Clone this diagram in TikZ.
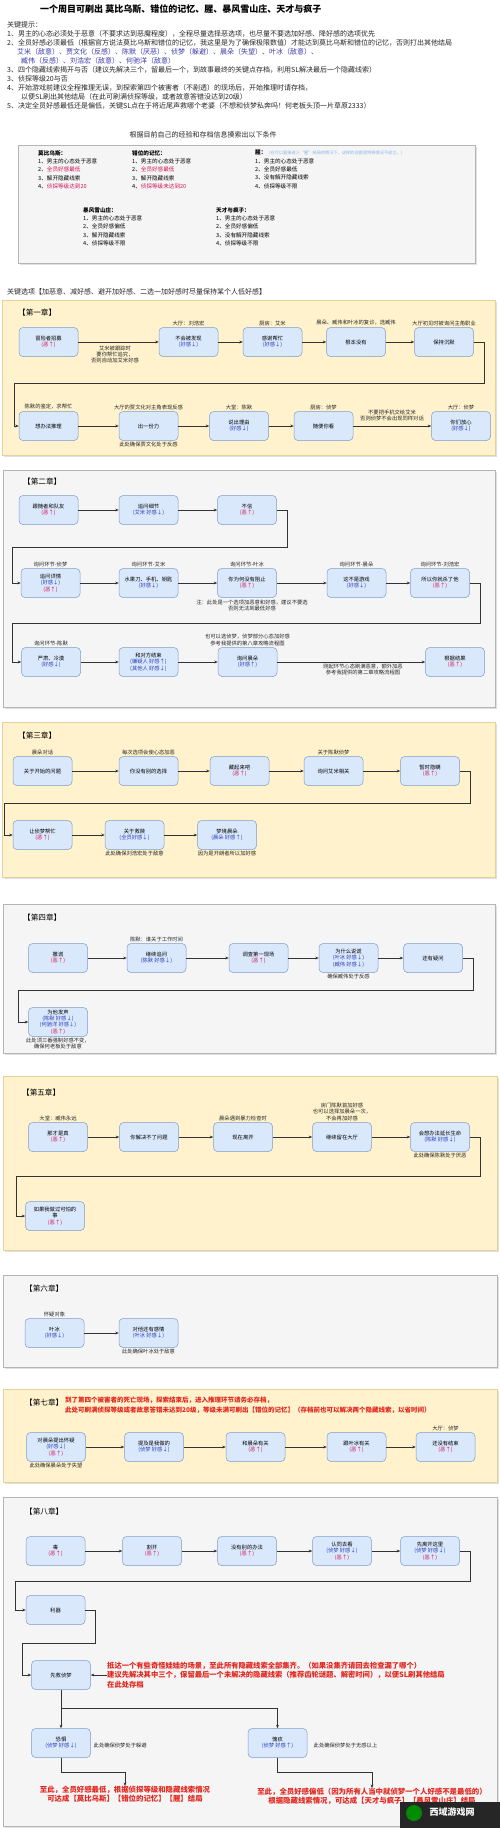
\documentclass[tikz,border=0pt]{standalone}
\usepackage{fontspec}
\setmainfont{Noto Sans CJK SC}
\usetikzlibrary{arrows.meta,positioning}
\definecolor{nbf}{HTML}{DAE8FC}
\definecolor{nbd}{HTML}{7F9CC9}
\definecolor{yf}{HTML}{FFF2CC}
\definecolor{yd}{HTML}{E5D29A}
\definecolor{gf}{HTML}{F5F5F5}
\definecolor{gd}{HTML}{B5B5B5}
\definecolor{evilc}{HTML}{D4145A}
\definecolor{favc}{HTML}{2A3FB8}
\definecolor{redt}{HTML}{E3261E}
\definecolor{tipblue}{HTML}{3A3AA8}
\definecolor{noteblue}{HTML}{86B6E8}
\definecolor{linec}{HTML}{333333}
\newcommand{\fsN}{\fontsize{5.3}{6.4}\selectfont}
\newcommand{\fsT}{\fontsize{7.0}{9}\selectfont}
\newcommand{\fsC}{\fontsize{5.6}{8.4}\selectfont}
\newcommand{\fsH}{\fontsize{7.6}{9}\selectfont}
\newcommand{\fsR}{\fontsize{6.5}{10}\selectfont}
\newcommand{\fsE}{\fontsize{7.4}{9.2}\selectfont}
\newcommand{\evil}{\textcolor{evilc}{(恶↑)}}
\newcommand{\fav}[1]{\textcolor{favc}{(#1)}}
\tikzset{
  nb/.style={draw=nbd, fill=nbf, rounded corners=4pt, minimum width=59pt, minimum height=29pt, inner sep=1pt, align=center, font=\fsN, line width=0.5pt},
  lab/.style={font=\fsN, inner sep=0.5pt, align=center, text=black!85},
  arr/.style={draw=linec, line width=0.5pt, -{Stealth[length=3.5pt,width=2.8pt]}},
  ych/.style={fill=yf, draw=yd, line width=0.6pt},
  gch/.style={fill=gf, draw=gd, line width=0.6pt},
  shd/.style={fill=black!12},
  chh/.style={font=\fsH, anchor=west, inner sep=0pt},
  tip/.style={font=\fsT, anchor=west, inner sep=0pt, text=black!85},
}
\begin{document}
\begin{tikzpicture}[x=1pt,y=-1pt]
\useasboundingbox (0,0) rectangle (500,1828);
\fill[white] (0,0) rectangle (500,1828);

% title
\node[anchor=west, inner sep=0, font=\fontsize{9.0}{11}\selectfont\bfseries] (title) at (40,9) {一个周目可刷出 莫比乌斯、错位的记忆、腥、暴风雪山庄、天才与疯子};

% tips
\node[tip] (t0) at (7,25) {关键提示：};
\node[tip] (t1) at (7,34) {1、男主的心态必须处于恶意（不要求达到恶魔程度），全程尽量选择恶选项，也尽量不要选加好感、降好感的选项优先};
\node[tip] (t2) at (7,43) {2、全员好感必须最低（根据官方说法莫比乌斯和错位的记忆，我这里是为了确保极限数值）才能达到莫比乌斯和错位的记忆，否则打出其他结局};
\node[tip, text=tipblue] (t3) at (17,52) {艾米（敌意）、贾文化（反感）、陈默（厌恶）、侦梦（躲避）、晨朵（失望）、叶冰（敌意）、};
\node[tip, text=tipblue] (t4) at (21,61) {臧伟（反感）、刘浩宏（敌意）、何驰洋（敌意）};
\node[tip] (t5) at (7,70) {3、四个隐藏线索揭开与否（建议先解决三个，留最后一个，到故事最终的关键点存档，利用SL解决最后一个隐藏线索）};
\node[tip] (t6) at (7,79) {3、侦探等级20与否};
\node[tip] (t7) at (7,88) {4、开始游戏前建议全程推理无误，到探索第四个被害者（不剧透）的现场后，开始推理时请存档，};
\node[tip] (t8) at (21,97) {以便SL刷出其他结局（在此可刷满侦探等级，或者故意答错没达到20级）};
\node[tip] (t9) at (7,106) {5、决定全员好感最低还是偏低，关键SL点在于将近尾声救哪个老婆（不想和侦梦私奔吗！何老板头顶一片草原2333）};

% conditions
\node[font=\fsT, inner sep=0, text=black!85] (condt) at (203,135) {根据目前自己的经验和存档信息摸索出以下条件};
\fill[shd] (20,147) rectangle (477,265);
\filldraw[gch] (18,145) rectangle (475,263);
\node[anchor=north west, inner sep=0, font=\fsC, align=left] (c1) at (38,150) {\textbf{莫比乌斯：}\\1、男主的心态处于恶意\\2、\textcolor{evilc}{全员好感最低}\\3、解开隐藏线索\\4、\textcolor{evilc}{侦探等级达到20}};
\node[anchor=north west, inner sep=0, font=\fsC, align=left] (c2) at (132,150) {\textbf{错位的记忆：}\\1、男主的心态处于恶意\\2、\textcolor{evilc}{全员好感最低}\\3、解开隐藏线索\\4、\textcolor{evilc}{侦探等级未达到20}};
\node[anchor=north west, inner sep=0, font=\fsC, align=left] (c3) at (255,150) {\textbf{腥：}{\fontsize{4.2}{5}\selectfont\textcolor{noteblue}{（在可以直接进入“腥”结局的情况下，这样的话都是特殊情况不成立。）}}\\1、男主的心态处于恶意\\2、全员好感最低\\3、没有解开隐藏线索\\4、侦探等级不限};
\node[anchor=north west, inner sep=0, font=\fsC, align=left] (c4) at (83,207) {\textbf{暴风雪山庄：}\\1、男主的心态处于恶意\\2、全员好感偏低\\3、解开隐藏线索\\4、侦探等级不限};
\node[anchor=north west, inner sep=0, font=\fsC, align=left] (c5) at (216,207) {\textbf{天才与疯子：}\\1、男主的心态处于恶意\\2、全员好感偏低\\3、没有解开隐藏线索\\4、侦探等级不限};

\node[tip] (keyopt) at (7,292) {关键选项【加恶意、减好感、避开加好感、二选一加好感时尽量保持某个人低好感】};

% ===== Chapter 1
\fill[shd] (3.5,301.5) rectangle (496.5,456.5);
\filldraw[ych] (2,300) rectangle (495,455);
\node[chh] (h1) at (18,313) {【第一章】};
\node[nb] (p1) at (48.5,342) {冒险者招募\\\evil};
\node[nb] (p2) at (188.5,342) {不会被发现\\\fav{好感↓}};
\node[nb] (p3) at (272.5,342) {感谢帮忙\\\fav{好感↓}};
\node[nb] (p4) at (356,342) {根本没有};
\node[nb] (p5) at (444,342) {保持沉默};
\node[nb] (p6) at (48.5,426) {想办法推理};
\node[nb] (p7) at (148.5,426) {出一份力};
\node[nb] (p8) at (239,426) {说出理由\\\fav{好感↓}};
\node[nb] (p9) at (323.5,426) {随便你看};
\node[nb] (p10) at (461,426) {你们放心\\\fav{好感↓}};
\node[lab, above=1pt of p2] {大厅：刘浩宏};
\node[lab, above=1pt of p3] {厨房：艾米};
\node[lab, above=1pt of p4] {晨朵、臧伟和叶冰的复诊，选臧伟};
\node[lab, above=1pt of p5] {大厅初见时被询问主角职业};
\node[lab, above=1pt of p6] {陈默的鉴定，求帮忙};
\node[lab, above=1pt of p7] {大厅的贾文化对主角表现反感};
\node[lab, below=1pt of p7] {此处确保贾文化处于反感};
\node[lab, above=1pt of p8] {大堂：陈默};
\node[lab, above=1pt of p9] {厨房：侦梦};
\node[lab, above=1pt of p10] {大厅：侦梦};
\node[lab, anchor=north] at (115,345) {艾米被跟踪时\\要你帮忙追究，\\否则自动加艾米好感};
\node[lab, anchor=south] at (392,422) {不要把手机交给艾米\\否则侦梦不会出现同样对话};
\draw[arr] (p1) -- (p2);
\draw[arr] (p2) -- (p3);
\draw[arr] (p3) -- (p4);
\draw[arr] (p4) -- (p5);
\draw[arr] (p5.east) -| (484,383) -| (14,426) -- (p6.west);
\draw[arr] (p6) -- (p7);
\draw[arr] (p7) -- (p8);
\draw[arr] (p8) -- (p9);
\draw[arr] (p9) -- (p10);

% ===== Chapter 2
\fill[shd] (4.5,471.5) rectangle (496.5,708.5);
\filldraw[gch] (3,470) rectangle (495,707);
\node[chh] (h2) at (23,482) {【第二章】};
\node[nb] (q1) at (48.5,510) {跟随者和队友\\\evil};
\node[nb] (q2) at (148.5,510) {追问细节\\\fav{艾米 好感↓}};
\node[nb] (q3) at (247,510) {不信\\\evil};
\node[nb] (r1) at (50.5,583) {追问详情\\\fav{好感↓}\\\evil};
\node[nb] (r2) at (148.5,583) {水果刀、手机、钥匙\\\fav{好感↓}};
\node[nb] (r3) at (247,583) {你为何没有阻止\\\evil};
\node[nb] (r4) at (356.5,583) {这不是游戏\\\fav{好感↓}};
\node[nb] (r5) at (440,583) {所以你就杀了他\\\evil};
\node[nb] (s1) at (51,662) {严肃、冷漠\\\fav{好感↓}};
\node[nb] (s2) at (148.5,662) {和对方结束\\\fav{嫌疑人 好感↑}\\\fav{其他人 好感↓}};
\node[nb] (s3) at (247.5,662) {询问晨朵\\\fav{好感↑}};
\node[nb] (s4) at (455,662) {根据结果\\\evil};
\node[lab, above=1pt of r1] {询问环节-侦梦};
\node[lab, above=1pt of r2] {询问环节-艾米};
\node[lab, above=1pt of r3] {询问环节-叶冰};
\node[lab, above=1pt of r4] {询问环节-晨朵};
\node[lab, above=1pt of r5] {询问环节-刘浩宏};
\node[lab, above=1pt of s1] {询问环节-陈默};
\node[lab, above=1pt of s3] {也可以选侦梦，侦梦部分心态加好感\\参考我提供的第八章攻略流程图};
\node[lab, anchor=north] at (252,599) {注：此处是一个选项加恶意和好感，建议不要选\\否则无法到最低好感};
\node[lab, anchor=north] at (363,663) {刚起环节心态刷满恶意，额外加恶\\参考我提供的第二章攻略流程图};
\draw[arr] (q1) -- (q2);
\draw[arr] (q2) -- (q3);
\draw[arr] (q3.east) -| (287,547) -| (12,583) -- (r1.west);
\draw[arr] (r1) -- (r2);
\draw[arr] (r2) -- (r3);
\draw[arr] (r3) -- (r4);
\draw[arr] (r4) -- (r5);
\draw[arr] (r5.east) -| (480,623) -| (12,662) -- (s1.west);
\draw[arr] (s1) -- (s2);
\draw[arr] (s2) -- (s3);
\draw[arr] (s3) -- (s4);

% ===== Chapter 3
\fill[shd] (3.5,723.5) rectangle (496.5,878.5);
\filldraw[ych] (2,722) rectangle (495,877);
\node[chh] (h3) at (18,736) {【第三章】};
\node[nb] (t1n) at (42.5,771) {关于开始的问题};
\node[nb] (t2n) at (148.5,771) {你没有别的选择};
\node[nb] (t3n) at (239.5,771) {藏起来吧\\\evil};
\node[nb] (t4n) at (333.5,771) {询问艾米相关};
\node[nb] (t5n) at (430,771) {暂时隐瞒\\\evil};
\node[nb] (u1) at (42.5,835) {让侦梦帮忙\\\evil};
\node[nb] (u2) at (134.5,835) {关于救赎\\\fav{全员好感↓}};
\node[nb] (u3) at (227,835) {梦境晨朵\\\fav{晨朵 好感↑}};
\node[lab, above=1pt of t1n] {晨朵对话};
\node[lab, above=1pt of t2n] {每次选项会使心态加恶};
\node[lab, above=1pt of t4n] {关于陈默侦梦};
\node[lab, below=1pt of u2] {此处确保刘浩宏处于敌意};
\node[lab, below=1pt of u3] {因为是开朗者所以加好感};
\draw[arr] (t1n) -- (t2n);
\draw[arr] (t2n) -- (t3n);
\draw[arr] (t3n) -- (t4n);
\draw[arr] (t4n) -- (t5n);
\draw[arr] (t5n.east) -| (470,803) -| (4,835) -- (u1.west);
\draw[arr] (u1) -- (u2);
\draw[arr] (u2) -- (u3);

% ===== Chapter 4
\fill[shd] (4.5,905.5) rectangle (496.5,1054.5);
\filldraw[gch] (3,904) rectangle (495,1053);
\node[chh] (h4) at (23,918) {【第四章】};
\node[nb] (v1) at (58,958) {撒谎\\\evil};
\node[nb] (v2) at (156.5,958) {继续追问\\\fav{陈默 好感↓}};
\node[nb] (v3) at (258.5,958) {调查第一现场\\\evil};
\node[nb] (v4) at (348.5,958) {为什么说谎\\\fav{叶冰 好感↓}\\\fav{臧伟 好感↓}};
\node[nb] (v5) at (433,958) {还有疑问};
\node[nb] (w1) at (58,1022) {为他发声\\\fav{陈默 好感↓}\\\fav{何驰洋 好感↓}\\\evil};
\node[lab, above=1pt of v2] {陈默：谁关于工作时间};
\node[lab, below=1pt of v4] {确保臧伟处于反感};
\node[lab, below=0.5pt of w1] {此处须三番强制好感不变，\\确保何老板处于敌意};
\draw[arr] (v1) -- (v2);
\draw[arr] (v2) -- (v3);
\draw[arr] (v3) -- (v4);
\draw[arr] (v4) -- (v5);
\draw[arr] (v5.east) -| (473,990) -| (18,1022) -- (w1.west);

% ===== Chapter 5
\fill[shd] (4.5,1077.5) rectangle (498.5,1251.5);
\filldraw[ych] (3,1076) rectangle (497,1250);
\node[chh] (h5) at (22,1093) {【第五章】};
\node[nb] (x1) at (58,1137) {那才是真\\\evil};
\node[nb] (x2) at (149,1137) {你解决不了问题};
\node[nb] (x3) at (243,1137) {现在离开};
\node[nb] (x4) at (342,1137) {继续留在大厅};
\node[nb] (x5) at (440,1137) {会想办法延长生命\\\fav{陈默 好感↓}};
\node[nb] (y1) at (55,1216) {如果我做过可怕的\\事\\\evil};
\node[lab, above=1pt of x1] {大堂：臧伟永远};
\node[lab, above=1pt of x3] {晨朵遇到暴力检查时};
\node[lab, above=1pt of x4] {房门陈默首加好感\\也可以选择加晨朵一次，\\不会再加好感};
\node[lab, below=1pt of x5] {此处确保陈默处于厌恶};
\draw[arr] (x1) -- (x2);
\draw[arr] (x2) -- (x3);
\draw[arr] (x3) -- (x4);
\draw[arr] (x4) -- (x5);
\draw[arr] (x5.east) -| (480,1176) -| (16,1216) -- (y1.west);

% ===== Chapter 6
\fill[shd] (4.5,1276.5) rectangle (498.5,1368.5);
\filldraw[gch] (3,1275) rectangle (497,1367);
\node[chh] (h6) at (25,1289) {【第六章】};
\node[nb] (z1) at (54.5,1333) {叶冰\\\fav{好感↓}};
\node[nb] (z2) at (148.5,1333) {对他还有感情\\\fav{叶冰 好感↓}};
\node[lab, above=1pt of z1] {怀疑对象};
\node[lab, below=1pt of z2] {此处确保叶冰处于敌意};
\draw[arr] (z1) -- (z2);

% ===== Chapter 7
\fill[shd] (4.5,1390.5) rectangle (498.5,1483.5);
\filldraw[ych] (3,1389) rectangle (497,1482);
\node[chh] (h7) at (25,1403) {【第七章】};
\node[anchor=north west, font=\fsR\bfseries, text=redt, align=left, inner sep=0] (h7t) at (65,1397) {到了第四个被害者的死亡现场，探索结束后，进入推理环节请务必存档，\\此处可刷满侦探等级或者故意答错未达到20级，等级未满可刷出【错位的记忆】（存档前也可以解决两个隐藏线索，以省时间）};
\node[nb] (k1) at (56,1447) {对晨朵提出怀疑\\\fav{好感↓}\\\evil};
\node[nb] (k2) at (154,1447) {提及是我做的\\\fav{侦梦 好感↓}};
\node[nb] (k3) at (255.5,1447) {和晨朵有关\\\evil};
\node[nb] (k4) at (356.5,1447) {跟叶冰有关\\\evil};
\node[nb] (k5) at (445.5,1447) {还没有结束\\\evil};
\node[lab, below=1pt of k1] {此处确保晨朵处于失望};
\node[lab, above=1pt of k5] {大厅：侦梦};
\draw[arr] (k1) -- (k2);
\draw[arr] (k2) -- (k3);
\draw[arr] (k3) -- (k4);
\draw[arr] (k4) -- (k5);

% ===== Chapter 8
\fill[shd] (4.5,1498.5) rectangle (498.5,1827.5);
\filldraw[gch] (3,1497) rectangle (497,1826);
\node[chh] (h8) at (25,1512) {【第八章】};
\node[nb] (l1) at (55.5,1551) {毒\\\evil};
\node[nb] (l2) at (152,1551) {割开\\\evil};
\node[nb] (l3) at (247,1551) {没有别的办法\\\evil};
\node[nb] (l4) at (342,1551) {认同去看\\\fav{侦梦 好感↓}\\\evil};
\node[nb] (l5) at (430,1551) {先离开这里\\\fav{侦梦 好感↓}\\\evil};
\node[nb] (m1) at (55.5,1610) {利器};
\node[nb] (sv) at (61,1675) {先救侦梦};
\node[anchor=west, font=\fontsize{7.3}{9.5}\selectfont\bfseries, text=redt, align=left, inner sep=0] (svt) at (107,1675) {抵达一个有些奇怪娃娃的场景，至此所有隐藏线索全部集齐。（如果没集齐请回去检查漏了哪个）\\建议先解决其中三个，保留最后一个未解决的隐藏线索（推荐齿轮谜题、解密时间），以便SL刷其他结局\\在此处存档};
\node[nb] (o1) at (61,1743) {恐惧\\\fav{侦梦 好感↓}};
\node[nb] (o2) at (277.5,1743) {愧疚\\\fav{侦梦 好感↑}};
\node[lab, anchor=west] at (93,1745) {此处确保侦梦处于躲避};
\node[lab, anchor=west] at (313,1745) {此处确保侦梦处于无感以上};
\node[anchor=north, font=\fsE\bfseries, text=redt, align=center, inner sep=0] (fin1) at (125,1786) {至此，全员好感最低，根据侦探等级和隐藏线索情况\\可达成【莫比乌斯】【错位的记忆】【腥】结局};
\node[anchor=north, font=\fsE\bfseries, text=redt, align=center, inner sep=0] (fin2) at (372,1788) {至此，全员好感偏低（因为所有人当中就侦梦一个人好感不是最低的）\\根据隐藏线索情况，可达成【天才与疯子】【暴风雪山庄】结局};
\coordinate (br) at (61,1708);
\draw[arr] (l1) -- (l2);
\draw[arr] (l2) -- (l3);
\draw[arr] (l3) -- (l4);
\draw[arr] (l4) -- (l5);
\draw[arr] (l5.east) -| (470,1581) -| (15,1610) -- (m1.west);
\draw[arr] (m1.east) -| (95,1643) -| (22,1675) -- (sv.west);
\draw[arr] (svt.west) -- (sv.east);
\draw[arr] (sv.south) -- (o1.north);
\draw[arr] (br) -| (o2.north);
\draw[arr] (o1.south) -- (61,1772) -| (fin1.north);
\draw[arr] (o2.south) -- (277.5,1772) -| (fin2.north);

% watermark
\fill[black!85] (400,1802) rectangle (500,1828);
\fill[green!55!black] (414,1813) circle (8);
\node[text=white, font=\fontsize{9}{10}\selectfont\bfseries, inner sep=0] (wm) at (452,1812) {西域游戏网};
\end{tikzpicture}
\end{document}
